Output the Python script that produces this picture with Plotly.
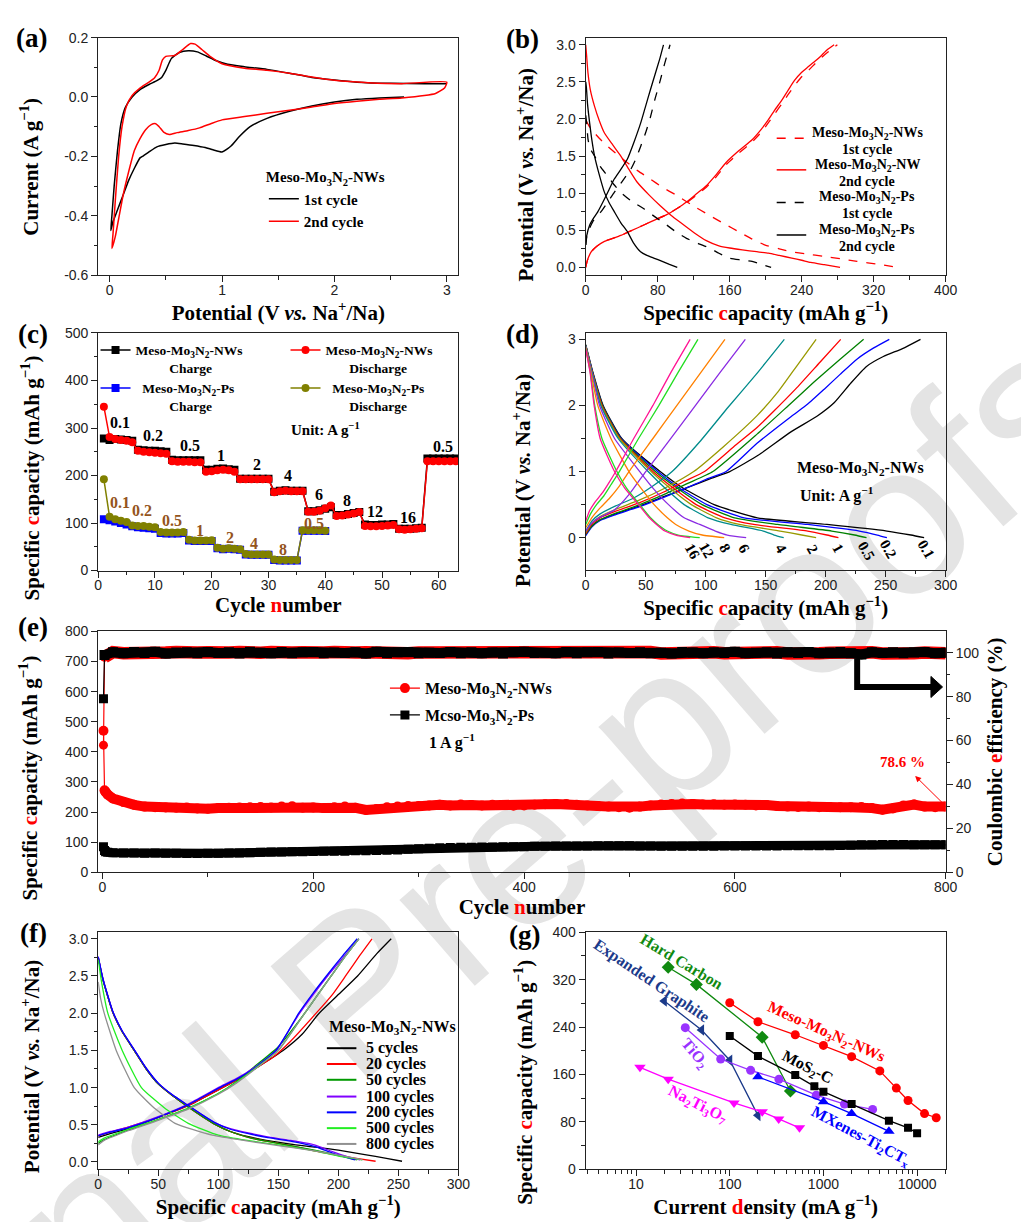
import math
import plotly.graph_objects as go

W, H = 1021, 1222
def px(x): return x / W
def py(y): return 1 - y / H

SERIF = "Liberation Serif, Times New Roman, serif"
SANS = "Liberation Sans, Arial, sans-serif"
INK = "#222222"
NB = "\u00a0"
MO = "Mo<sub>3</sub>N<sub>2</sub>"
def red(s): return '<span style="color:#ff0000">' + s + '</span>'

# ---------------- (a) CV curves ----------------
a_c1_v = [2.62, 2.4, 2.2, 2.0, 1.8, 1.6, 1.4, 1.25, 1.15, 1.08, 1.0, 0.92, 0.85, 0.75, 0.65, 0.58, 0.5, 0.42, 0.35,
          0.3, 0.27, 0.22, 0.17, 0.12, 0.07, 0.03, 0.01, 0.02, 0.04, 0.07, 0.1, 0.14, 0.2, 0.27, 0.35, 0.42, 0.46,
          0.5, 0.55, 0.62, 0.7, 0.78, 0.86, 0.95, 1.05, 1.2, 1.4, 1.6, 1.8, 2.0, 2.2, 2.5, 2.8, 3.0]
a_c1_i = [0.0, -0.003, -0.008, -0.017, -0.03, -0.048, -0.072, -0.1, -0.135, -0.165, -0.185, -0.178, -0.17, -0.163,
          -0.158, -0.155, -0.16, -0.168, -0.185, -0.198, -0.205, -0.24, -0.28, -0.33, -0.38, -0.42, -0.45, -0.4,
          -0.3, -0.18, -0.09, -0.035, 0.0, 0.025, 0.042, 0.055, 0.065, 0.09, 0.13, 0.15, 0.156, 0.152, 0.138, 0.122,
          0.11, 0.102, 0.093, 0.08, 0.066, 0.057, 0.05, 0.046, 0.045, 0.045]
a_c2_v = [3.0, 2.98, 2.9, 2.8, 2.6, 2.4, 2.2, 2.0, 1.8, 1.6, 1.4, 1.2, 1.0, 0.9, 0.8, 0.7, 0.6, 0.53, 0.48, 0.44,
          0.41, 0.37, 0.32, 0.27, 0.22, 0.17, 0.12, 0.08, 0.05, 0.02, 0.03, 0.05, 0.08, 0.11, 0.15, 0.2, 0.27, 0.35,
          0.4, 0.44, 0.47, 0.5, 0.58, 0.65, 0.72, 0.76, 0.82, 0.9, 1.0, 1.2, 1.4, 1.6, 1.8, 2.0, 2.3, 2.6, 3.0]
a_c2_i = [0.05, 0.03, 0.012, 0.005, -0.003, -0.008, -0.014, -0.022, -0.034, -0.045, -0.055, -0.066, -0.077, -0.09,
          -0.104, -0.113, -0.12, -0.126, -0.118, -0.1, -0.09, -0.093, -0.11, -0.14, -0.18, -0.25, -0.33, -0.41,
          -0.47, -0.51, -0.46, -0.35, -0.2, -0.1, -0.03, 0.005, 0.03, 0.05, 0.065, 0.09, 0.125, 0.137, 0.14, 0.16,
          0.18, 0.178, 0.16, 0.135, 0.112, 0.097, 0.09, 0.08, 0.067, 0.056, 0.048, 0.045, 0.05]

# ---------------- (b) charge/discharge profiles ----------------
b_nw1_dis_x = [0, 3, 6.2, 15, 24.4, 35, 46.3, 58, 71.8, 85, 101, 118, 137.5, 155, 170, 185, 199.4, 215, 228.6, 245,
               265, 283, 301.5, 325, 347]
b_nw1_dis_y = [1.99, 1.92, 1.86, 1.74, 1.63, 1.52, 1.41, 1.3, 1.19, 1.08, 0.97, 0.84, 0.7, 0.58, 0.48, 0.38, 0.3,
               0.25, 0.21, 0.18, 0.146, 0.115, 0.08, 0.04, 0.0]
b_nw1_chg_x = [0, 2, 6.2, 13, 20.8, 30, 39, 50, 64.5, 77, 90, 101, 112, 123, 134, 145, 155.7, 170, 184.9, 195, 203,
               210, 217.7, 225, 232, 240, 248, 256, 263, 271, 279.6]
b_nw1_chg_y = [0.0, 0.1, 0.21, 0.29, 0.35, 0.39, 0.43, 0.49, 0.57, 0.64, 0.71, 0.79, 0.87, 0.97, 1.08, 1.22, 1.38,
               1.54, 1.69, 1.82, 1.95, 2.07, 2.2, 2.33, 2.45, 2.57, 2.66, 2.76, 2.84, 2.92, 3.0]
b_nw2_dis_x = [0, 1, 2.5, 5, 9.8, 15, 20.8, 30, 39, 48, 57, 70, 82.8, 95, 104.6, 120, 134, 148, 160, 174, 190, 203,
               215, 229, 240, 250, 265, 282.6]
b_nw2_dis_y = [3.0, 2.85, 2.62, 2.4, 2.17, 1.98, 1.81, 1.65, 1.5, 1.32, 1.15, 0.98, 0.83, 0.7, 0.61, 0.47, 0.36,
               0.29, 0.26, 0.235, 0.21, 0.19, 0.16, 0.124, 0.095, 0.065, 0.035, 0.0]
b_nw2_chg_x = [0, 2, 6.2, 13, 20.8, 30, 39, 50, 64.5, 77, 90, 101, 112, 123, 134, 145, 155.7, 170, 184.9, 195, 203,
               210, 217.7, 225, 232, 240, 246.8, 255, 261.4, 268, 276]
b_nw2_chg_y = [0.0, 0.1, 0.21, 0.29, 0.35, 0.39, 0.43, 0.49, 0.57, 0.64, 0.71, 0.79, 0.88, 0.99, 1.1, 1.25, 1.41,
               1.57, 1.72, 1.86, 1.99, 2.12, 2.25, 2.39, 2.52, 2.63, 2.7, 2.78, 2.85, 2.93, 3.0]
b_ps1_dis_x = [0, 1, 2.6, 5, 9.8, 16, 24.4, 31, 39, 50, 64.5, 77, 90, 100, 112, 125, 137.5, 148, 159.3, 172, 184.9,
               195, 206]
b_ps1_dis_y = [2.05, 1.95, 1.72, 1.6, 1.5, 1.36, 1.23, 1.12, 1.01, 0.9, 0.79, 0.68, 0.57, 0.48, 0.39, 0.32, 0.26,
               0.19, 0.124, 0.1, 0.08, 0.04, 0.0]
b_ps1_chg_x = [0, 1, 2.6, 8, 17, 24, 31.7, 40, 50, 56, 61, 67, 72, 77, 82.8, 88, 93.7]
b_ps1_chg_y = [0.3, 0.4, 0.48, 0.62, 0.75, 0.87, 1.01, 1.15, 1.32, 1.47, 1.63, 1.83, 2.03, 2.27, 2.52, 2.76, 3.0]
b_ps2_dis_x = [0, 0.7, 2, 4.4, 7, 9.8, 15, 20.8, 26, 31.7, 39, 46.3, 53, 60.9, 68, 75.5, 85, 93, 101.7]
b_ps2_dis_y = [2.5, 2.43, 2.2, 1.94, 1.7, 1.5, 1.25, 1.01, 0.87, 0.75, 0.6, 0.48, 0.33, 0.21, 0.16, 0.124, 0.08,
               0.04, 0.0]
b_ps2_chg_x = [0, 1, 4.4, 9, 13.5, 20.8, 26, 31.7, 39, 46.3, 54, 60.9, 66, 71.8, 77, 82, 86.4]
b_ps2_chg_y = [0.3, 0.42, 0.57, 0.67, 0.75, 0.92, 1.05, 1.19, 1.32, 1.46, 1.7, 1.94, 2.15, 2.39, 2.6, 2.8, 3.0]

# ---------------- (c) rate capability ----------------
c_nw_cycles = [1, 2, 3, 4, 5, 6, 7, 8, 9, 10, 11, 12, 13, 14, 15, 16, 17, 18, 19, 20, 21, 22, 23, 24, 25, 26, 27,
               28, 29, 30, 31, 32, 33, 34, 35, 36, 37, 38, 39, 40, 41, 42, 43, 44, 45, 46, 47, 48, 49, 50, 51, 52,
               53, 54, 55, 56, 57, 58, 59, 60, 61, 62, 63]
c_nw_charge = [278, 275, 277, 276, 275, 273, 254, 253, 252, 252, 251, 250, 233, 232, 232, 232, 232, 232,
               212, 212, 214, 215, 213, 212, 193, 193, 193, 193, 193, 193, 166, 168, 169, 168, 168, 168,
               125, 125, 127, 130, 133, 117, 117, 119, 121, 123, 97, 96, 96, 97, 97, 98, 88, 88, 88, 89, 90,
               236, 236, 236, 236, 236, 236]
c_nw_discharge = [345, 281, 277, 275, 273, 270, 252, 250, 249, 248, 247, 246, 230, 229, 229, 229, 228, 228,
                  208, 209, 211, 212, 211, 208, 192, 192, 192, 192, 192, 192, 165, 167, 168, 167, 167, 167,
                  124, 124, 126, 131, 137, 115, 116, 118, 120, 123, 94, 93, 93, 94, 95, 96, 87, 86, 87, 88, 89,
                  230, 230, 230, 230, 230, 230]
c_ps_cycles = [1, 2, 3, 4, 5, 6, 7, 8, 9, 10, 11, 12, 13, 14, 15, 16, 17, 18, 19, 20, 21, 22, 23, 24, 25, 26, 27,
               28, 29, 30, 31, 32, 33, 34, 35, 36, 37, 38, 39, 40]
c_ps_charge = [108, 106, 103, 100, 97, 93, 91, 90, 89, 88, 79, 78, 78, 78, 79, 63, 62, 62, 62, 62,
               47, 45, 46, 45, 44, 34, 33, 33, 33, 33, 22, 21, 21, 21, 21, 84, 84, 84, 84, 83]
c_ps_discharge = [192, 113, 108, 105, 102, 95, 94, 94, 92, 91, 81, 80, 80, 80, 81, 65, 63, 63, 63, 64,
                  48, 46, 47, 46, 45, 35, 34, 34, 34, 34, 23, 22, 22, 22, 22, 85, 85, 85, 85, 84]
c_nw_rate_labels = ["0.1", "0.2", "0.5", "1", "2", "4", "6", "8", "12", "16", "0.5"]
c_ps_rate_labels = ["0.1", "0.2", "0.5", "1", "2", "4", "8", "0.5"]

# ---------------- (d) profiles at different rates ----------------
d_rates = ["0.1", "0.2", "0.5", "1", "2", "4", "6", "8", "12", "16"]
d_dis_v = [
    [2.92, 2.5, 2.0, 1.5, 1.0, 0.75, 0.5, 0.3, 0.2, 0.1, 0.04, 0.0],
    [2.91, 2.5, 2.0, 1.5, 1.0, 0.75, 0.5, 0.3, 0.2, 0.1, 0.04, 0.0],
    [2.91, 2.5, 2.0, 1.5, 1.0, 0.75, 0.5, 0.3, 0.2, 0.1, 0.04, 0.0],
    [2.9, 2.5, 2.0, 1.5, 1.0, 0.75, 0.5, 0.3, 0.2, 0.1, 0.04, 0.0],
    [2.9, 2.5, 2.0, 1.5, 1.0, 0.75, 0.5, 0.3, 0.2, 0.1, 0.04, 0.0],
    [2.9, 2.5, 2.0, 1.5, 1.0, 0.75, 0.5, 0.3, 0.2, 0.1, 0.04, 0.0],
    [2.89, 2.5, 2.0, 1.5, 1.0, 0.75, 0.5, 0.3, 0.2, 0.1, 0.04, 0.0],
    [2.88, 2.5, 2.0, 1.5, 1.0, 0.75, 0.5, 0.3, 0.2, 0.1, 0.04, 0.0],
    [2.86, 2.5, 2.0, 1.5, 1.0, 0.75, 0.5, 0.3, 0.2, 0.1, 0.04, 0.0],
    [2.85, 2.5, 2.0, 1.5, 1.0, 0.75, 0.5, 0.3, 0.2, 0.1, 0.04, 0.0],
]
d_dis_cap = [
    [0, 6.0, 14.5, 30, 62, 81, 107, 143, 201, 251, 271, 282],
    [0, 5.8, 14, 29.5, 60, 78, 101, 132, 185, 228, 243, 251],
    [0, 5.6, 14, 29, 58, 76, 97, 124, 160, 205, 224, 234],
    [0, 5.5, 13.5, 28.5, 56, 73, 92, 116, 140, 185, 201, 210.6],
    [0, 5.3, 13, 28, 54.5, 70, 88, 109, 128, 162, 180, 192],
    [0, 5.2, 12.5, 27, 52, 66, 82, 102, 121, 148, 157, 165],
    [0, 4.8, 11.5, 24, 45, 56, 69, 82, 95, 108, 118, 133.7],
    [0, 4.3, 10, 21, 36, 46, 57, 68, 75, 86, 97, 115.4],
    [0, 3.8, 7.5, 13.5, 26, 34, 45, 54, 60, 68, 77, 95],
    [0, 3.6, 7, 12, 24, 32.5, 44, 53, 59, 66, 75, 87],
]
d_chg_cap = [
    [0, 5, 12, 25, 45, 65, 85, 105, 120, 144, 171, 193, 207, 221, 234, 248, 264, 279],
    [0, 5, 12, 25, 45, 65, 85, 100, 117, 143, 171, 185, 199, 212, 226, 240, 253],
    [0, 5, 12, 25, 45, 65, 85, 106, 143, 169, 190, 212, 231.6],
    [0, 5, 12, 25, 45, 65, 82, 99, 125, 143, 156, 175, 195, 212.5],
    [0, 5, 12, 25, 45, 65, 90, 115, 143, 160, 176, 192],
    [0, 5, 12, 25, 40, 55, 72, 95, 119, 142, 165.5],
    [0, 5, 12, 24, 36, 50, 70, 91.5, 112, 133],
    [0, 5, 12, 20, 28, 36, 56, 76, 96, 116],
    [0, 4, 9, 15, 21, 28, 44, 61, 77, 93.5],
    [0, 3, 7, 14, 19, 25, 40, 56, 71, 87],
]
d_chg_v = [
    [0.05, 0.18, 0.27, 0.36, 0.48, 0.62, 0.76, 0.9, 1.0, 1.25, 1.6, 1.84, 2.04, 2.34, 2.59, 2.74, 2.86, 3.0],
    [0.03, 0.16, 0.26, 0.35, 0.47, 0.61, 0.76, 0.88, 1.0, 1.43, 1.83, 2.02, 2.25, 2.47, 2.7, 2.87, 3.0],
    [0.05, 0.17, 0.27, 0.37, 0.5, 0.65, 0.82, 1.0, 1.57, 2.0, 2.35, 2.7, 3.0],
    [0.06, 0.2, 0.3, 0.4, 0.53, 0.69, 0.85, 1.0, 1.4, 1.67, 1.9, 2.25, 2.65, 3.0],
    [0.08, 0.22, 0.32, 0.43, 0.57, 0.74, 1.0, 1.38, 1.85, 2.2, 2.6, 3.0],
    [0.1, 0.25, 0.36, 0.48, 0.6, 0.77, 1.0, 1.45, 1.98, 2.47, 3.0],
    [0.1, 0.22, 0.31, 0.42, 0.65, 1.0, 1.48, 2.0, 2.5, 3.0],
    [0.15, 0.3, 0.45, 0.6, 0.78, 1.0, 1.5, 2.0, 2.5, 3.0],
    [0.2, 0.36, 0.5, 0.63, 0.8, 1.0, 1.5, 2.0, 2.5, 3.0],
    [0.25, 0.4, 0.52, 0.68, 0.82, 1.0, 1.5, 2.0, 2.5, 3.0],
]

# ---------------- (e) long-term cycling ----------------
e_cap_cycles = [1, 2, 3, 5] + list(range(10, 801, 10))
e_nw_capacity = [470, 272, 266, 258,
                 245, 233, 224, 218, 216, 215, 214, 215, 212, 211,
                 213, 214, 215, 216, 217, 215, 218, 219, 214, 215,
                 213, 216, 218, 214, 207, 210, 216, 218, 220, 220,
                 222, 224, 222, 225, 223, 222, 224, 223, 221, 222,
                 224, 226, 227, 227, 224, 222, 220, 218, 216, 214,
                 218, 222, 225, 227, 228, 227, 225, 226, 224, 225,
                 224, 222, 223, 220, 218, 217, 218, 216, 217, 216,
                 216, 217, 213, 208, 212, 222, 225, 218, 216, 218]
e_ps_capacity = [85, 72, 68, 66,
                 65, 64, 64, 63, 64, 63, 63, 62, 62, 63,
                 63, 64, 64, 65, 66, 67, 67, 68, 68, 69,
                 70, 70, 70, 71, 71, 72, 73, 74, 76, 78,
                 80, 81, 82, 83, 83, 84, 84, 85, 85, 85,
                 86, 86, 87, 87, 87, 87, 88, 88, 88, 88,
                 87, 87, 86, 86, 86, 86, 86, 86, 87, 87,
                 87, 87, 87, 87, 88, 88, 88, 88, 88, 89,
                 90, 91, 91, 92, 92, 92, 91, 91, 91, 91]
e_ce_cycles = [1, 2] + list(range(10, 801, 10))
e_nw_ce = [57.9, 98.0,
           100.3, 99.8, 100.2, 100.35, 99.7, 100.05, 100.3, 99.8, 100.1, 100.25,
           99.7, 100.15, 100.3, 99.8, 100.0, 100.35, 99.75, 100.1, 100.25, 99.75,
           100.05, 100.35, 99.7, 100.15, 100.25, 99.8, 100.05, 100.3, 99.75, 100.15,
           100.2, 99.7, 100.1, 100.3, 99.8, 100.05, 100.35, 99.75, 100.15, 100.25,
           99.75, 100.0, 100.35, 99.7, 100.1, 100.25, 99.8, 100.05, 100.2, 99.75,
           100.15, 100.3, 99.7, 100.05, 100.3, 99.8, 100.1, 100.2, 99.75, 100.05,
           100.3, 99.75, 100.1, 100.25, 99.7, 100.15, 100.35, 99.75, 100.0, 100.25,
           99.8, 100.1, 100.25, 99.7, 100.15, 100.2, 99.75, 100.05, 100.3, 99.75]
e_ps_ce = [79.0, 99.0,
           100.2, 99.8, 100.3, 99.9, 100.4, 99.7, 100.1, 100.2, 99.8, 100.3,
           99.9, 100.2, 99.7, 100.4, 100.0, 99.8, 100.3, 99.8, 100.2, 100.3,
           99.8, 100.1, 99.9, 100.2, 99.7, 100.4, 99.8, 100.2, 100.3, 99.8,
           100.0, 99.9, 100.3, 99.8, 100.2, 99.8, 100.1, 99.6, 100.2, 100.4,
           99.9, 100.0, 99.8, 100.3, 99.8, 100.2, 100.3, 99.7, 100.1, 99.9,
           100.2, 99.8, 100.0, 99.7, 100.3, 100.1, 99.8, 100.2, 99.9, 100.4,
           99.8, 100.0, 100.2, 99.7, 100.2, 99.9, 100.3, 99.8, 100.1, 100.3,
           99.8, 99.2, 100.2, 99.9, 100.2, 99.8, 100.1, 100.3, 99.8, 100.0]

# ---------------- (f) profiles at different cycles ----------------
f_names = ["5 cycles", "20 cycles", "50 cycles", "100 cycles", "200 cycles", "500 cycles", "800 cycles"]
f_dis_cap = [
    [0, 4, 12, 20, 30, 40, 50, 62, 75, 87, 97, 110, 125, 140, 160, 181, 200, 222, 240, 253],
    [0, 4, 12, 20, 30, 40, 50, 62, 75, 87, 97, 110, 125, 140, 160, 180, 200, 215, 231],
    [0, 4, 12, 20, 30, 40, 50, 62, 75, 87, 97, 110, 125, 140, 160, 180, 200, 215.7],
    [0, 4, 12, 20, 30, 40, 50, 62, 75, 87, 97, 110, 125, 140, 160, 180, 195, 208, 218],
    [0, 4, 12, 20, 30, 40, 50, 62, 75, 87, 97, 110, 125, 140, 160, 180, 195, 205, 214],
    [0, 3, 8, 20, 36, 55, 75, 100, 120, 150, 180, 200, 220],
    [0, 2, 5, 15, 30, 45, 64, 95, 125, 150, 180, 205, 220],
]
f_dis_v = [
    [2.75, 2.45, 2.02, 1.75, 1.5, 1.25, 1.05, 0.89, 0.74, 0.61, 0.51, 0.41, 0.34, 0.29, 0.24, 0.2, 0.16, 0.1, 0.05, 0.01],
    [2.75, 2.45, 2.02, 1.75, 1.5, 1.25, 1.05, 0.89, 0.74, 0.61, 0.51, 0.41, 0.33, 0.28, 0.22, 0.15, 0.09, 0.05, 0.01],
    [2.74, 2.44, 2.02, 1.75, 1.5, 1.25, 1.05, 0.89, 0.74, 0.61, 0.51, 0.41, 0.33, 0.28, 0.22, 0.16, 0.09, 0.03],
    [2.76, 2.46, 2.03, 1.76, 1.51, 1.26, 1.06, 0.9, 0.76, 0.63, 0.53, 0.45, 0.39, 0.34, 0.29, 0.23, 0.14, 0.07, 0.03],
    [2.76, 2.46, 2.03, 1.76, 1.51, 1.26, 1.06, 0.9, 0.76, 0.63, 0.53, 0.44, 0.38, 0.33, 0.28, 0.21, 0.12, 0.07, 0.03],
    [2.72, 2.4, 2.0, 1.5, 1.0, 0.73, 0.52, 0.36, 0.3, 0.23, 0.15, 0.08, 0.03],
    [2.42, 2.2, 2.0, 1.5, 1.0, 0.75, 0.52, 0.36, 0.28, 0.22, 0.15, 0.08, 0.03],
]
f_chg_cap = [
    [0, 10, 25, 50, 75, 100, 115, 130, 154, 170, 184, 200, 216, 232, 244],
    [0, 10, 25, 50, 75, 100, 115, 130, 145, 160, 181.5, 195, 206, 218, 228],
    [0, 5, 25, 50, 75, 100, 115, 130, 150, 172, 185, 194, 205, 217],
    [0, 10, 25, 50, 75, 100, 115, 130, 148.6, 158, 167.8, 180, 191, 204, 217],
    [0, 10, 25, 50, 75, 100, 115, 130, 148, 158, 167, 179, 190, 203, 215.7],
    [0, 5, 25, 50, 75, 100, 115, 130, 150, 172, 194, 205, 217],
    [0, 5, 25, 50, 75, 100, 115, 130, 150, 172, 194, 205, 217],
]
f_chg_v = [
    [0.33, 0.38, 0.45, 0.6, 0.76, 0.97, 1.1, 1.25, 1.5, 1.72, 2.0, 2.25, 2.5, 2.8, 3.0],
    [0.35, 0.4, 0.47, 0.6, 0.76, 0.97, 1.1, 1.25, 1.4, 1.62, 2.0, 2.25, 2.5, 2.78, 3.0],
    [0.25, 0.3, 0.43, 0.57, 0.72, 0.92, 1.08, 1.28, 1.55, 2.0, 2.3, 2.5, 2.75, 3.0],
    [0.36, 0.41, 0.47, 0.61, 0.78, 1.0, 1.12, 1.27, 1.5, 1.75, 2.0, 2.27, 2.5, 2.75, 3.0],
    [0.35, 0.4, 0.46, 0.6, 0.77, 0.99, 1.11, 1.26, 1.5, 1.75, 2.0, 2.27, 2.5, 2.76, 3.0],
    [0.27, 0.32, 0.44, 0.57, 0.72, 0.92, 1.07, 1.25, 1.5, 2.0, 2.5, 2.75, 3.0],
    [0.23, 0.29, 0.42, 0.56, 0.71, 0.91, 1.06, 1.24, 1.5, 2.0, 2.5, 2.75, 3.0],
]

# ---------------- (g) comparison ----------------
g_nw_x = [100, 200, 500, 1000, 2000, 4000, 6000, 8000, 12000, 16000]
g_nw_y = [281, 249, 227, 209, 190, 166, 137, 116, 94, 87]
g_mos2_x = [100, 200, 500, 800, 1000, 2000, 5000, 8000, 10000]
g_mos2_y = [225, 191, 159, 140, 131, 110, 82, 70, 61]
g_hc_x = [22, 44, 222, 444]
g_hc_y = [341, 312, 223, 132]
g_eg_x = [20, 50, 100, 200]
g_eg_y = [284, 235, 184, 91]
g_tio2_x = [33.5, 80, 167, 335, 838, 1675, 3350]
g_tio2_y = [239, 186, 167, 152, 125, 110, 101]
g_mx_x = [200, 1000, 2000, 5000]
g_mx_y = [156, 114, 94, 64]
g_nto_x = [11, 22, 111, 222, 333, 555]
g_nto_y = [172, 152, 112, 97, 85, 70]

# =====================================================================
fig = go.Figure()

def add(x, y, xa, ya, **kw):
    kw.setdefault("showlegend", False)
    fig.add_trace(go.Scatter(x=x, y=y, xaxis=xa, yaxis=ya, **kw))

def join(a, b):
    return a + [None] + b

SPL = dict(shape="spline", smoothing=0.5)

# (a)
add(a_c1_v, a_c1_i, "x", "y", mode="lines", name="1st cycle", showlegend=True, legend="legend",
    line=dict(color="#000000", width=1.5, **SPL))
add(a_c2_v, a_c2_i, "x", "y", mode="lines", name="2nd cycle", showlegend=True, legend="legend",
    line=dict(color="#ff0000", width=1.5, **SPL))

# (b)
b_series = [
    (b_nw1_dis_x, b_nw1_dis_y, b_nw1_chg_x, b_nw1_chg_y, "#ff0000", "dash"),
    (b_nw2_dis_x, b_nw2_dis_y, b_nw2_chg_x, b_nw2_chg_y, "#ff0000", "solid"),
    (b_ps1_dis_x, b_ps1_dis_y, b_ps1_chg_x, b_ps1_chg_y, "#000000", "dash"),
    (b_ps2_dis_x, b_ps2_dis_y, b_ps2_chg_x, b_ps2_chg_y, "#000000", "solid"),
]
for dx, dy, cx, cy, col, dash in b_series:
    add(join(dx, cx), join(dy, cy), "x2", "y2", mode="lines",
        line=dict(color=col, width=1.3, dash=dash, **SPL))

# (c)
add(c_nw_cycles, c_nw_charge, "x3", "y3", mode="lines+markers", showlegend=True, legend="legend2",
    name="Meso-" + MO + "-NWs<br>" + NB * 10 + "Charge",
    line=dict(color="#000000", width=1.5), marker=dict(symbol="square", size=8, color="#000000"))
add(c_ps_cycles, c_ps_charge, "x3", "y3", mode="lines+markers", showlegend=True, legend="legend2",
    name=NB * 2 + "Meso-" + MO + "-Ps<br>" + NB * 10 + "Charge",
    line=dict(color="#0000ff", width=1.5), marker=dict(symbol="square", size=8, color="#0000ff"))
add(c_nw_cycles, c_nw_discharge, "x3", "y3", mode="lines+markers", showlegend=True, legend="legend3",
    name="Meso-" + MO + "-NWs<br>" + NB * 7 + "Discharge",
    line=dict(color="#ff0000", width=1.5), marker=dict(symbol="circle", size=8, color="#ff0000"))
add(c_ps_cycles, c_ps_discharge, "x3", "y3", mode="lines+markers", showlegend=True, legend="legend3",
    name=NB * 2 + "Meso-" + MO + "-Ps<br>" + NB * 7 + "Discharge",
    line=dict(color="#808000", width=1.5), marker=dict(symbol="circle", size=8, color="#808000"))

# (d)
d_colors = ["#000000", "#0000ff", "#008000", "#ff0000", "#999900", "#008b8b", "#8a2be2", "#ff8000", "#22dd22",
            "#ff1493"]
for i in range(len(d_rates)):
    add(join(d_dis_cap[i], d_chg_cap[i]), join(d_dis_v[i], d_chg_v[i]), "x4", "y4", mode="lines",
        name=d_rates[i], line=dict(color=d_colors[i], width=1.3, **SPL))

# (e) coulombic efficiency: thin first segment + thick band
add(e_ce_cycles[:3], e_nw_ce[:3], "x5", "y6", mode="lines+markers", line=dict(color="#ff0000", width=1.2),
    marker=dict(symbol="circle", size=9, color="#ff0000"))
add(e_ce_cycles[1:], e_nw_ce[1:], "x5", "y6", mode="lines+markers", line=dict(color="#ff0000", width=12.5),
    marker=dict(symbol="circle", size=9, color="#ff0000"))
add(e_ce_cycles[:3], e_ps_ce[:3], "x5", "y6", mode="lines+markers", line=dict(color="#000000", width=1.2),
    marker=dict(symbol="square", size=9, color="#000000"))
add(e_ce_cycles[1:], e_ps_ce[1:], "x5", "y6", mode="lines+markers", line=dict(color="#000000", width=10),
    marker=dict(symbol="square", size=10, color="#000000"))
# (e) capacity: band + marker trace (legend)
add(e_cap_cycles[1:], e_nw_capacity[1:], "x5", "y5", mode="lines", line=dict(color="#ff0000", width=10))
add(e_cap_cycles[1:], e_ps_capacity[1:], "x5", "y5", mode="lines", line=dict(color="#000000", width=9))
add(e_cap_cycles, e_nw_capacity, "x5", "y5", mode="lines+markers", showlegend=True, legend="legend4",
    legendgroup="nw", name="Meso-" + MO + "-NWs", line=dict(color="#ff0000", width=1.2),
    marker=dict(symbol="circle", size=10, color="#ff0000"))
add(e_cap_cycles, e_ps_capacity, "x5", "y5", mode="lines+markers", showlegend=True, legend="legend4",
    legendgroup="ps", name="Mcso-" + MO + "-Ps", line=dict(color="#000000", width=1.2),
    marker=dict(symbol="square", size=9, color="#000000"))

# (f)
f_colors = ["#000000", "#ff0000", "#009900", "#8000ff", "#0000ff", "#22ee22", "#909090"]
for i in range(len(f_names)):
    add(join(f_dis_cap[i], f_chg_cap[i]), join(f_dis_v[i], f_chg_v[i]), "x6", "y7", mode="lines",
        name=f_names[i], line=dict(color=f_colors[i], width=1.3, **SPL))

# (g)
g_series = [
    (g_hc_x, g_hc_y, "#108a10", "diamond", 10),
    (g_eg_x, g_eg_y, "#1b3a8a", "triangle-left", 10),
    (g_tio2_x, g_tio2_y, "#9933ff", "circle", 9),
    (g_nto_x, g_nto_y, "#ff00ff", "triangle-down", 10),
    (g_mx_x, g_mx_y, "#0000ff", "triangle-up", 10),
    (g_mos2_x, g_mos2_y, "#000000", "square", 8),
    (g_nw_x, g_nw_y, "#ff0000", "circle", 9),
]
for gx, gy, col, sym, sz in g_series:
    add(gx, gy, "x7", "y8", mode="lines+markers", line=dict(color=col, width=1.3),
        marker=dict(symbol=sym, size=sz, color=col))

# =====================================================================
TITLE_FONT = dict(family=SERIF, size=21, color="#000000", weight="bold")
TICK_FONT = dict(family=SANS, size=14, color=INK)

def mn(d, t0=0):
    return dict(ticks="outside", ticklen=3.5, tickwidth=1.1, tickcolor=INK, dtick=d, tick0=t0, showgrid=False)

def axis(domain, rng, anchor, title, standoff, **kw):
    d = dict(domain=domain, range=rng, anchor=anchor, showline=True, linewidth=1.3, linecolor=INK, mirror=True,
             ticks="outside", ticklen=6, tickwidth=1.2, tickcolor=INK, tickfont=TICK_FONT, showgrid=False,
             zeroline=False, title=dict(text=title, font=TITLE_FONT, standoff=standoff))
    d.update(kw)
    return d

def xaxis(*a, **kw):
    kw.setdefault("ticklabelstandoff", -4)
    return axis(*a, **kw)

def ytitle(text, pad):
    # invisible trailing dots move the rotated title down along its axis, as in the reference
    return text + '<span style="color:rgba(255,255,255,0)">' + "." * pad + "</span>"

XL = [px(95.7), px(461.7)]
XR = [px(591), px(956.7)]
XE = [px(95.7), px(956.7)]
YR1 = [py(270.7), py(30)]
YR2 = [py(570), py(329.3)]
YR2d = [py(569.3), py(329.3)]
YR3 = [py(875.7), py(631.7)]
YR4 = [py(1176.7), py(936.5)]

T_POT = "Potential (V <i>vs.</i> Na<sup>+</sup>/Na)"
T_CAP = "Specific " + red("c") + "apacity (mAh g<sup>\u22121</sup>)"
T_CYC = "Cycle " + red("n") + "umber"

layout = dict(
    width=W, height=H, autosize=False, margin=dict(l=0, r=0, t=0, b=0),
    paper_bgcolor="white", plot_bgcolor="rgba(0,0,0,0)",
    xaxis=xaxis(XL, [-0.102, 3.104], "y", T_POT, 1, dtick=1, tick0=0, minor=mn(0.5)),
    yaxis=axis(YR1, [-0.6, 0.2], "x", ytitle("Current (A g<sup>\u22121</sup>)", 4), 19,
               tickvals=[-0.6, -0.4, -0.2, 0.0, 0.2], ticktext=["-0.6", "-0.4", "-0.2", "0.0", "0.2"],
               minor=mn(0.1)),
    xaxis2=xaxis(XR, [0, 400], "y2", T_CAP, 1, dtick=80, tick0=0, minor=mn(40)),
    yaxis2=axis(YR1, [-0.106, 3.097], "x2", ytitle(T_POT, 7), 16, dtick=0.5, tick0=0, tickformat=".1f",
                minor=mn(0.25)),
    xaxis3=xaxis(XL, [0, 63.47], "y3", T_CYC, 1, dtick=10, tick0=0, minor=mn(5)),
    yaxis3=axis(YR2, [0, 500], "x3", ytitle(T_CAP, 10), 19, dtick=100, tick0=0, minor=mn(50)),
    xaxis4=xaxis(XR, [0, 300], "y4", T_CAP, 1, dtick=50, tick0=0, minor=mn(25)),
    yaxis4=axis(YR2d, [-0.487, 3.096], "x4", ytitle(T_POT, 11), 31, tickvals=[0, 1, 2, 3], minor=mn(0.5)),
    xaxis5=xaxis(XE, [-4, 800], "y5", T_CYC, 0, tickvals=[0, 200, 400, 600, 800], minor=mn(100)),
    yaxis5=axis(YR3, [0, 800], "x5", ytitle(T_CAP, 10), 21, dtick=100, tick0=0),
    yaxis6=axis(YR3, [0, 109.7], "x5", "Coulombic " + red("e") + "fficiency (%)", 9, side="right",
                overlaying="y5", mirror=False, tickvals=[0, 20, 40, 60, 80, 100], minor=mn(10)),
    xaxis6=xaxis(XL, [0, 300], "y7", T_CAP, 1, dtick=50, tick0=0, minor=mn(25)),
    yaxis7=axis(YR4, [-0.098, 3.088], "x6", ytitle(T_POT, 6), 23, dtick=0.5, tick0=0, tickformat=".1f",
                minor=mn(0.25)),
    xaxis7=xaxis(XR, [math.log10(2.9), math.log10(20200)], "y8",
                 "Current " + red("d") + "ensity (mA g<sup>\u22121</sup>)", 1, type="log",
                 tickvals=[10, 100, 1000, 10000], ticktext=["10", "100", "1000", "10000"],
                 minor=dict(ticks="outside", ticklen=3.5, tickwidth=1.1, tickcolor=INK, dtick="D1", showgrid=False)),
    yaxis8=axis(YR4, [0, 400], "x7", ytitle(T_CAP, 12), 14, dtick=80, tick0=0, minor=mn(40)),
)

LEG_FONT = dict(family=SERIF, size=15, color="#000000", weight="bold")
layout["legend"] = dict(x=px(264), y=py(157), xanchor="left", yanchor="top", bgcolor="rgba(0,0,0,0)",
                        font=LEG_FONT, title=dict(text="Meso-" + MO + "-NWs", font=LEG_FONT), tracegroupgap=0)
LEG13 = dict(family=SERIF, size=13.5, color="#000000", weight="bold")
layout["legend2"] = dict(x=px(93), y=py(331), xanchor="left", yanchor="top", bgcolor="rgba(0,0,0,0)",
                         font=LEG13, valign="top", tracegroupgap=0)
layout["legend3"] = dict(x=px(286), y=py(331), xanchor="left", yanchor="top", bgcolor="rgba(0,0,0,0)",
                         font=LEG13, valign="top", tracegroupgap=0)
layout["legend4"] = dict(x=px(387), y=py(672), xanchor="left", yanchor="top", bgcolor="rgba(0,0,0,0)",
                         font=dict(family=SERIF, size=16, color="#000000", weight="bold"), tracegroupgap=3)

ann = []
shapes = []

def txt(x, y, text, size=15, color="#000000", xanchor="center", xref="paper", yref="paper", angle=0, **kw):
    d = dict(x=x, y=y, xref=xref, yref=yref, text=text, showarrow=False, xanchor=xanchor, yanchor="middle",
             textangle=angle, font=dict(family=SERIF, size=size, color=color, weight="bold"))
    d.update(kw)
    ann.append(d)

# panel labels
for lab, xx, yy in [("(a)", 28, 30), ("(b)", 527, 31), ("(c)", 29, 330), ("(d)", 527, 330),
                    ("(e)", 29, 627), ("(f)", 30, 937), ("(g)", 529, 939)]:
    txt(px(xx), py(yy), lab, size=27)

# (b) custom legend
b_leg_rows = [("Meso-" + MO + "-NWs", "1st cycle", "#ff0000", "dash", 132, 127, 143),
              ("Meso-" + MO + "-NW", "2nd cycle", "#ff0000", "solid", 164, 160, 176),
              ("Meso-" + MO + "-Ps", "1st cycle", "#000000", "dash", 197, 192, 208),
              ("Meso-" + MO + "-Ps", "2nd cycle", "#000000", "solid", 230, 225, 242)]
for l1, l2, col, dash, yl, y1, y2 in b_leg_rows:
    shapes.append(dict(type="line", xref="paper", yref="paper", x0=px(785), x1=px(815), y0=py(yl), y1=py(yl),
                       line=dict(color=col, width=1.5, dash=dash)))
    txt(px(877), py(y1), l1, size=14)
    txt(px(877), py(y2), l2, size=14)

# (c) rate labels
c_nw_pos = [(3.9, 311), (9.7, 284), (16.1, 264), (21.7, 242), (28, 223), (33.5, 201), (38.9, 159),
            (43.9, 147), (48.8, 125), (54.5, 112), (60.7, 262)]
for lab, (xx, yy) in zip(c_nw_rate_labels, c_nw_pos):
    txt(xx, yy, lab, size=16, xref="x3", yref="y3")
c_ps_pos = [(3.8, 143), (7.7, 126), (13, 105), (17.9, 84.5), (23.2, 69), (27.5, 57), (32.5, 45), (38, 100)]
for lab, (xx, yy) in zip(c_ps_rate_labels, c_ps_pos):
    txt(xx, yy, lab, size=16, color="#94541c", xref="x3", yref="y3")
txt(33.7, 298, "Unit: A g<sup>\u22121</sup>", size=15, xanchor="left", xref="x3", yref="y3")

# (d) labels
d_pos = [(283.6, -0.17), (252, -0.17), (234, -0.2), (210, -0.16), (189, -0.17), (163, -0.17), (132, -0.17),
         (116, -0.16), (100.4, -0.19), (89.4, -0.21)]
for lab, (xx, yy) in zip(d_rates, d_pos):
    txt(xx, yy, lab, size=15, xref="x4", yref="y4", angle=60)
txt(229, 1.04, "Meso-" + MO + "-NWs", size=16, xref="x4", yref="y4")
txt(177, 0.66, "Unit: A g<sup>\u22121</sup>", size=16, xanchor="left", xref="x4", yref="y4")

# (e) annotations
txt(px(430), py(743), "1 A g<sup>\u22121</sup>", size=16, xanchor="left")
txt(px(913), py(764), "78.6 %", size=15, color="#ff0000")
ann.append(dict(x=771, y=320, xref="x5", yref="y5", ax=798.5, ay=225, axref="x5", ayref="y5", text="",
                showarrow=True, arrowhead=2, arrowsize=1.2, arrowwidth=1, arrowcolor="#ff0000"))
shapes.append(dict(type="path", xref="x5", yref="y6", path="M 716,97.5 L 716,84.4 L 790,84.4",
                   line=dict(color="#000000", width=6), fillcolor="rgba(0,0,0,0)"))
shapes.append(dict(type="path", xref="x5", yref="y6", path="M 786,89.2 L 797,84.4 L 786,79.6 Z",
                   line=dict(color="#000000", width=1), fillcolor="#000000"))

# (f) custom legend
txt(px(328), py(1033), "Meso-" + MO + "-NWs", size=16, xanchor="left")
f_rows = [1054, 1070, 1086, 1103, 1119, 1135, 1151]
for name, col, yy in zip(f_names, f_colors, f_rows):
    shapes.append(dict(type="line", xref="paper", yref="paper", x0=px(328), x1=px(358), y0=py(yy), y1=py(yy),
                       line=dict(color=col, width=2)))
    txt(px(366), py(yy), name, size=16, xanchor="left")

# (g) labels
g_labels = [("Hard Carbon", 30.5, 350, 31, "#108a10"),
            ("Expanded Graphite", 14.7, 318.5, 34, "#1b3a8a"),
            ("Meso-" + MO + "-NWs", 1087, 231.6, 24, "#ff0000"),
            ("MoS<sub>2</sub>-C", 670, 171.7, 27, "#000000"),
            ("TiO<sub>2</sub>", 42, 195, 50, "#9933ff"),
            ("MXenes-Ti<sub>2</sub>CT<sub>x</sub>", 2518, 55.4, 28, "#0000ff"),
            ("Na<sub>2</sub>Ti<sub>3</sub>O<sub>7</sub>", 45.6, 109.7, 27, "#ff00ff")]
for lab, xx, yy, ang, col in g_labels:
    txt(math.log10(xx), yy, lab, size=16, color=col, xref="x7", yref="y8", angle=ang)

# watermark
shapes.append(dict(type="rect", xref="paper", yref="paper", x0=px(375), x1=px(395), y0=py(954), y1=py(934),
                   line=dict(width=0), fillcolor="rgba(0,0,0,0)", layer="below",
                   label=dict(text="Journal Pre-proofs", textangle=-41, textposition="middle center",
                              font=dict(family=SANS, size=216, color="#e4e4e4"))))

layout["annotations"] = ann
layout["shapes"] = shapes
fig.update_layout(**layout)
fig.write_html("out.html")
